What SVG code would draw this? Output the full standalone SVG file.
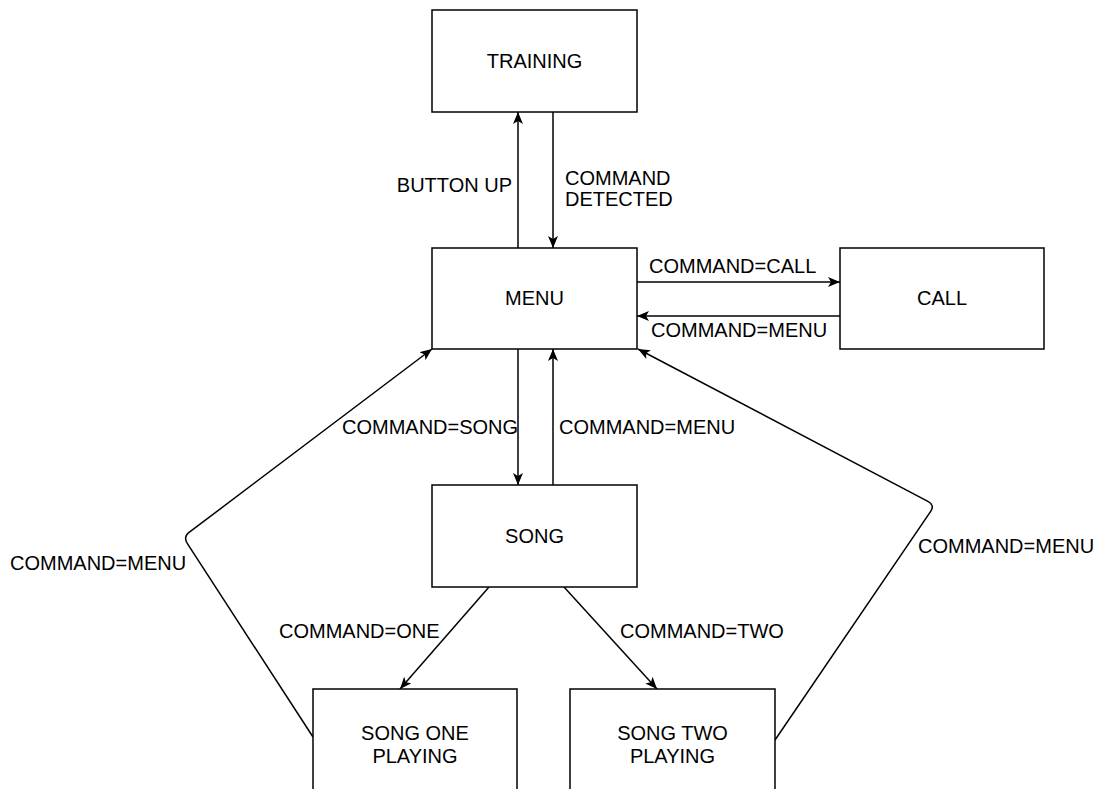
<svg xmlns="http://www.w3.org/2000/svg" width="1099" height="789" viewBox="0 0 1099 789">
<defs>
<marker id="arr" viewBox="0 0 12 10" refX="12" refY="5" markerWidth="12" markerHeight="10" orient="auto" markerUnits="userSpaceOnUse">
<path d="M0,0 L12,5 L0,10 L3,5 z" fill="#000"/>
</marker>
<style>
.box{fill:#fff;stroke:#000;stroke-width:1.5}
.edge{fill:none;stroke:#000;stroke-width:1.5;marker-end:url(#arr)}
text{font-family:"Liberation Sans",Arial,sans-serif;font-size:20px;fill:#000}
.c{text-anchor:middle}
</style>
</defs>
<rect width="1099" height="789" fill="#fff"/>
<g id="connectors">
<path class="edge" d="M518,248 L518,112"/>
<path class="edge" d="M553,112 L553,248"/>
<path class="edge" d="M637,282 L840,282"/>
<path class="edge" d="M840,316 L637,316"/>
<path class="edge" d="M518,349 L518,485"/>
<path class="edge" d="M553,485 L553,349"/>
<path class="edge" d="M489,587 L400,689"/>
<path class="edge" d="M564,587 L657,689"/>
<path class="edge" d="M313,737 L187.4,543.7 Q183,537 189.4,532.2 L432,349"/>
<path class="edge" d="M775,740 L930.5,511.6 Q935,505 927.9,501.3 L638,349"/>
<text x="512" y="192" text-anchor="end">BUTTON UP</text>
<text x="565" y="185">COMMAND</text>
<text x="565" y="206">DETECTED</text>
<text x="649" y="273">COMMAND=CALL</text>
<text x="651" y="337">COMMAND=MENU</text>
<text x="342" y="434">COMMAND=SONG</text>
<text x="559" y="434">COMMAND=MENU</text>
<text x="10" y="570">COMMAND=MENU</text>
<text x="279" y="638">COMMAND=ONE</text>
<text x="620" y="638">COMMAND=TWO</text>
<text x="918" y="553">COMMAND=MENU</text>
</g>
<g id="training"><rect class="box" x="432" y="10" width="205" height="102"/><text class="c" x="534.5" y="68">TRAINING</text></g>
<g id="menu"><rect class="box" x="432" y="248" width="205" height="101"/><text class="c" x="534.5" y="305">MENU</text></g>
<g id="call"><rect class="box" x="840" y="248" width="204" height="101"/><text class="c" x="942" y="305">CALL</text></g>
<g id="song"><rect class="box" x="432" y="485" width="205" height="102"/><text class="c" x="534.5" y="543">SONG</text></g>
<g id="song-one"><rect class="box" x="313" y="689" width="204" height="102"/><text class="c" x="415" y="740">SONG ONE</text><text class="c" x="415" y="763">PLAYING</text></g>
<g id="song-two"><rect class="box" x="570" y="689" width="205" height="102"/><text class="c" x="672.5" y="740">SONG TWO</text><text class="c" x="672.5" y="763">PLAYING</text></g>
</svg>
